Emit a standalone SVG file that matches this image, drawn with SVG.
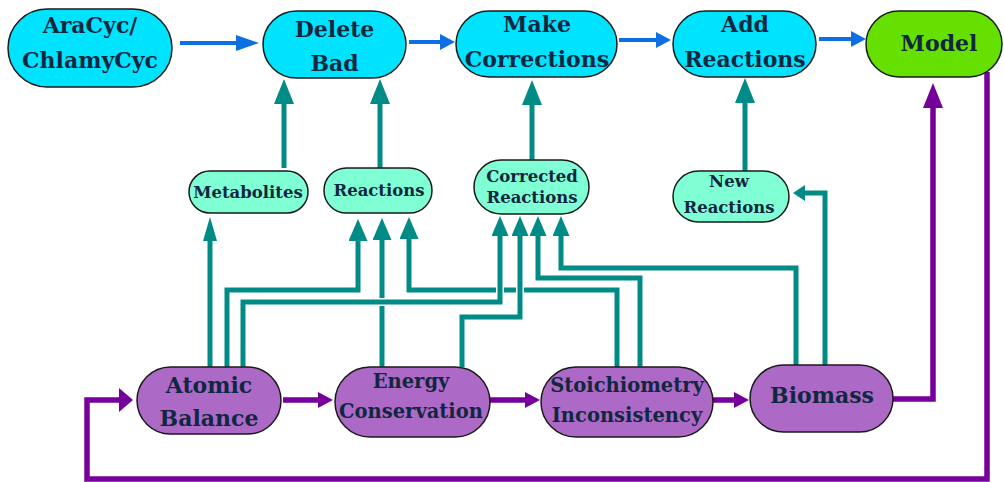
<svg xmlns="http://www.w3.org/2000/svg" width="1004" height="482" viewBox="0 0 1004 482">
  <style>
    .node { stroke: #1a1a1a; stroke-width: 1.5; }
    .cyan { fill: #00e3ff; }
    .aqua { fill: #80ffd4; }
    .purple { fill: #ad69c6; }
    .green { fill: #66e000; }
    text { font-family: "DejaVu Serif", "Liberation Serif", serif; font-weight: bold; fill: #10283f; text-anchor: middle; }
    .t-lg { font-size: 22px; }
    .t-md { font-size: 19.5px; }
    .t-sm { font-size: 16.5px; }
    .teal { fill: none; stroke: #008b87; stroke-width: 5; }
    .halo { fill: none; stroke: #ffffff; stroke-width: 8; }
    .blue { fill: none; stroke: #0d6fe2; stroke-width: 4; }
    .violet { fill: none; stroke: #75009a; stroke-width: 5.5; }
  </style>
  <defs>
    <marker id="tA" markerUnits="userSpaceOnUse" markerWidth="25" markerHeight="20" refX="0" refY="10" orient="auto" viewBox="0 0 25 20"><path d="M0,0 L25,10 L0,20 z" fill="#008b87"/></marker>
    <marker id="tB" markerUnits="userSpaceOnUse" markerWidth="22" markerHeight="19" refX="0" refY="9.5" orient="auto" viewBox="0 0 22 19"><path d="M0,0 L22,9.5 L0,19 z" fill="#008b87"/></marker>
    <marker id="tC" markerUnits="userSpaceOnUse" markerWidth="20" markerHeight="17" refX="0" refY="8.5" orient="auto" viewBox="0 0 20 17"><path d="M0,0 L20,8.5 L0,17 z" fill="#008b87"/></marker>
    <marker id="tD" markerUnits="userSpaceOnUse" markerWidth="12" markerHeight="16" refX="0" refY="8" orient="auto" viewBox="0 0 12 16"><path d="M0,0 L12,8 L0,16 z" fill="#008b87"/></marker>
    <marker id="tM" markerUnits="userSpaceOnUse" markerWidth="24" markerHeight="14" refX="0" refY="7" orient="auto" viewBox="0 0 24 14"><path d="M0,0 L24,7 L0,14 z" fill="#008b87"/></marker>
    <marker id="bA" markerUnits="userSpaceOnUse" markerWidth="23" markerHeight="16" refX="0" refY="8" orient="auto" viewBox="0 0 23 16"><path d="M0,0 L23,8 L0,16 z" fill="#0d6fe2"/></marker>
    <marker id="bB" markerUnits="userSpaceOnUse" markerWidth="15" markerHeight="16" refX="0" refY="8" orient="auto" viewBox="0 0 15 16"><path d="M0,0 L15,8 L0,16 z" fill="#0d6fe2"/></marker>
    <marker id="pA" markerUnits="userSpaceOnUse" markerWidth="15" markerHeight="16" refX="0" refY="8" orient="auto" viewBox="0 0 15 16"><path d="M0,0 L15,8 L0,16 z" fill="#75009a"/></marker>
    <marker id="pB" markerUnits="userSpaceOnUse" markerWidth="14" markerHeight="24" refX="0" refY="12" orient="auto" viewBox="0 0 14 24"><path d="M0,0 L14,12 L0,24 z" fill="#75009a"/></marker>
    <marker id="pC" markerUnits="userSpaceOnUse" markerWidth="25" markerHeight="20" refX="0" refY="10" orient="auto" viewBox="0 0 25 20"><path d="M0,0 L25,10 L0,20 z" fill="#75009a"/></marker>
  </defs>

  <rect width="1004" height="482" fill="#ffffff"/>

  <g id="connectors">
    <!-- pipeline along the top -->
    <path class="blue" d="M180,43 H236" marker-end="url(#bA)"/>
    <path class="blue" d="M409,42 H440" marker-end="url(#bB)"/>
    <path class="blue" d="M619,40 H656" marker-end="url(#bB)"/>
    <path class="blue" d="M819,39 H851" marker-end="url(#bB)"/>

    <!-- result sets feeding the top steps -->
    <path class="teal" d="M284,168 V104" marker-end="url(#tA)"/>
    <path class="teal" d="M380,168 V104" marker-end="url(#tA)"/>
    <path class="teal" d="M532,160 V105" marker-end="url(#tA)"/>
    <path class="teal" d="M745,171 V103" marker-end="url(#tA)"/>

    <!-- checks producing result sets -->
    <path class="teal" d="M210,367 V241" marker-end="url(#tM)"/>
    <path class="teal" d="M227,367 V290 H358 V241" marker-end="url(#tB)"/>
    <path class="teal" d="M382,367 V240" marker-end="url(#tB)"/>
    <path class="teal" d="M617,367 V290 H409 V239" marker-end="url(#tB)"/>
    <path class="teal" d="M640,367 V278 H538 V236" marker-end="url(#tC)"/>
    <path class="teal" d="M796,365 V268 H561 V236" marker-end="url(#tC)"/>
    <path class="teal" d="M825,365 V193 H805" marker-end="url(#tD)"/>
    <!-- lines that hop over others get a white gap -->
    <path class="halo" d="M243,367 V302 H500 V240"/>
    <path class="teal" d="M243,367 V302 H500 V236" marker-end="url(#tC)"/>
    <path class="halo" d="M462,367 V317 H520 V240"/>
    <path class="teal" d="M462,367 V317 H520 V236" marker-end="url(#tC)"/>

    <!-- check sequence and feedback loop -->
    <path class="violet" d="M283,400 H318" marker-end="url(#pA)"/>
    <path class="violet" d="M490,400 H525" marker-end="url(#pA)"/>
    <path class="violet" d="M713,400 H734" marker-end="url(#pA)"/>
    <path class="violet" d="M893,399 H933 V108" marker-end="url(#pC)"/>
    <path class="violet" d="M987,72 V479 H87 V400 H119" marker-end="url(#pB)"/>
  </g>

  <g id="aracyc">
    <rect class="node cyan" x="8" y="9" width="164" height="78" rx="39"/>
    <text class="t-lg" x="90" y="33">AraCyc/</text>
    <text class="t-lg" x="90" y="68">ChlamyCyc</text>
  </g>
  <g id="delete-bad">
    <rect class="node cyan" x="263" y="11" width="143" height="67" rx="33.5"/>
    <text class="t-lg" x="334.5" y="37">Delete</text>
    <text class="t-lg" x="334.5" y="71">Bad</text>
  </g>
  <g id="make-corrections">
    <rect class="node cyan" x="456" y="11" width="161" height="66" rx="33"/>
    <text class="t-lg" x="537" y="32">Make</text>
    <text class="t-lg" x="537" y="67">Corrections</text>
  </g>
  <g id="add-reactions">
    <rect class="node cyan" x="673" y="11" width="143" height="66" rx="33"/>
    <text class="t-lg" x="745" y="32">Add</text>
    <text class="t-lg" x="745" y="67">Reactions</text>
  </g>
  <g id="model">
    <rect class="node green" x="866" y="11" width="136" height="66" rx="33"/>
    <text class="t-lg" x="939" y="51">Model</text>
  </g>

  <g id="metabolites">
    <rect class="node aqua" x="189" y="171" width="119" height="42" rx="21"/>
    <text class="t-sm" x="248" y="198">Metabolites</text>
  </g>
  <g id="reactions">
    <rect class="node aqua" x="324" y="168" width="108" height="45" rx="22.5"/>
    <text class="t-sm" x="379" y="196">Reactions</text>
  </g>
  <g id="corrected-reactions">
    <rect class="node aqua" x="474" y="160" width="115" height="54" rx="27"/>
    <text class="t-sm" x="532" y="182">Corrected</text>
    <text class="t-sm" x="532" y="203">Reactions</text>
  </g>
  <g id="new-reactions">
    <rect class="node aqua" x="673" y="171" width="116" height="51" rx="25.5"/>
    <text class="t-sm" x="729" y="187">New</text>
    <text class="t-sm" x="729" y="213">Reactions</text>
  </g>

  <g id="atomic-balance">
    <rect class="node purple" x="137" y="367" width="144" height="67" rx="33.5"/>
    <text class="t-lg" x="209" y="393">Atomic</text>
    <text class="t-lg" x="209" y="426">Balance</text>
  </g>
  <g id="energy-conservation">
    <rect class="node purple" x="335" y="367" width="155" height="70" rx="35"/>
    <text class="t-md" x="411" y="388">Energy</text>
    <text class="t-md" x="411" y="418">Conservation</text>
  </g>
  <g id="stoichiometry-inconsistency">
    <rect class="node purple" x="541" y="367" width="172" height="70" rx="35"/>
    <text class="t-md" x="627" y="392">Stoichiometry</text>
    <text class="t-md" x="627" y="422">Inconsistency</text>
  </g>
  <g id="biomass">
    <rect class="node purple" x="750" y="365" width="143" height="67" rx="33.5"/>
    <text class="t-lg" x="822" y="403">Biomass</text>
  </g>
</svg>
